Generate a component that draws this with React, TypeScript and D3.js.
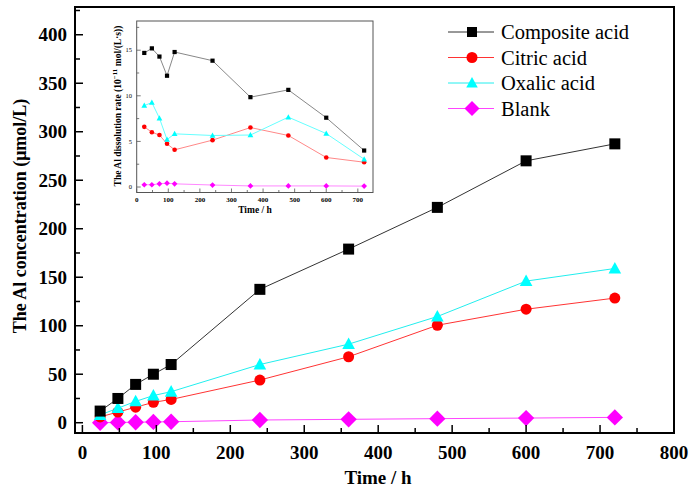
import React from "react";
import * as d3 from "d3";

const times = [24, 48, 72, 96, 120, 240, 360, 480, 600, 720];
const seriesNames = ["Composite acid", "Citric acid", "Oxalic acid", "Blank"];
const compositeConc = [12, 25, 39.5, 50, 60, 137.5, 179, 222, 270, 287.5];
const citricConc = [6, 11, 16, 21, 24, 44, 68, 100.5, 117, 128.5];
const oxalicConc = [8, 15, 22, 28, 32, 60, 81, 109.5, 146, 159];
const blankConc = [0, 0.3, 0.5, 0.8, 1, 2.8, 3.5, 4.2, 4.8, 5.5];

const compositeRate = [14.7, 15.2, 14.3, 12.2, 14.8, 13.85, 9.85, 10.65, 7.6, 4.0];
const citricRate = [6.6, 6.0, 5.7, 4.74, 4.08, 5.14, 6.52, 5.65, 3.24, 2.72];
const oxalicRate = [8.93, 9.26, 7.55, 5.2, 5.83, 5.65, 5.7, 7.66, 5.86, 3.05];
const blankRate = [0.25, 0.25, 0.35, 0.42, 0.35, 0.22, 0.12, 0.12, 0.12, 0.1];

const mainXTicks = [0, 100, 200, 300, 400, 500, 600, 700, 800];
const mainYTicks = [0, 50, 100, 150, 200, 250, 300, 350, 400];
const insetXTicks = [0, 100, 200, 300, 400, 500, 600, 700];
const insetYTicks = [0, 5, 10, 15];

const markerColors = ["#000000", "#ff0000", "#00ffff", "#ff00ff"];
const lineColors = ["#333333", "#ff3333", "#22eeee", "#ff44ff"];
const insetLineColors = ["#888888", "#ff8888", "#66ffff", "#ff88ff"];
const shapes = ["square", "circle", "triangle", "diamond"];

function Marker({ shape, x, y, s, fill }: { shape: string; x: number; y: number; s: number; fill: string }) {
  if (shape === "square") return <rect x={x - s / 2} y={y - s / 2} width={s} height={s} fill={fill} />;
  if (shape === "circle") return <circle cx={x} cy={y} r={s * 0.55} fill={fill} />;
  if (shape === "triangle") {
    const h = s * 1.0;
    const w = s * 1.15;
    return <path d={`M${x},${y - h * 0.6} L${x + w / 2},${y + h * 0.45} L${x - w / 2},${y + h * 0.45} Z`} fill={fill} />;
  }
  const r = s * 0.68;
  return <path d={`M${x},${y - r} L${x + r},${y} L${x},${y + r} L${x - r},${y} Z`} fill={fill} />;
}

export default function App() {
  const W = 694, H = 495;
  const x = d3.scaleLinear().domain([-10, 800]).range([75, 674]);
  const y = d3.scaleLinear().domain([-10.6, 428.6]).range([433, 7]);
  const ix = d3.scaleLinear().domain([0, 748]).range([136.7, 373]);
  const iy = d3.scaleLinear().domain([-0.6, 18.2]).range([192.5, 21]);

  const conc = [compositeConc, citricConc, oxalicConc, blankConc];
  const rate = [compositeRate, citricRate, oxalicRate, blankRate];
  const mainLine = d3.line<[number, number]>().x((d) => x(d[0])).y((d) => y(d[1]));
  const insetLine = d3.line<[number, number]>().x((d) => ix(d[0])).y((d) => iy(d[1]));

  const xMinor = d3.range(0, 801, 50);
  const yMinor = d3.range(0, 426, 25);
  const ixMinor = d3.range(0, 748, 50);
  const iyMinor = d3.range(0, 18.2, 2.5);
  const serif = "Liberation Serif, Times New Roman, Times, DejaVu Serif, serif";

  return (
    <svg width={W} height={H} style={{ position: "absolute", left: 0, top: 0, background: "#fff", fontFamily: serif }}>
      <rect x={0} y={0} width={W} height={H} fill="#fff" />
      {/* main series */}
      {conc.map((vals, i) => (
        <path key={"l" + i} d={mainLine(times.map((t, j) => [t, vals[j]]))!} fill="none" stroke={lineColors[i]} strokeWidth={1} />
      ))}
      {[3, 1, 2, 0].map((i) =>
        times.map((t, j) => (
          <Marker key={`m${i}-${j}`} shape={shapes[i]} x={x(t)} y={y(conc[i][j])} s={i === 3 ? 12 : i === 1 ? 10 : 11} fill={markerColors[i]} />
        ))
      )}
      {/* main frame */}
      <rect x={75} y={7} width={599} height={426} fill="none" stroke="#000" strokeWidth={2} />
      {xMinor.map((t) => (
        <line key={"xt" + t} x1={x(t)} x2={x(t)} y1={433} y2={433 - (t % 100 === 0 ? 8 : 5)} stroke="#000" strokeWidth={1.5} />
      ))}
      {yMinor.map((t) => (
        <line key={"yt" + t} x1={75} x2={75 + (t % 50 === 0 ? 8 : 5)} y1={y(t)} y2={y(t)} stroke="#000" strokeWidth={1.5} />
      ))}
      {mainXTicks.map((t) => (
        <text key={"xl" + t} x={x(t)} y={459} textAnchor="middle" fontSize={19} fontWeight="bold">{t}</text>
      ))}
      {mainYTicks.map((t) => (
        <text key={"yl" + t} x={67} y={y(t) + 6.5} textAnchor="end" fontSize={19} fontWeight="bold">{t}</text>
      ))}
      <text x={378} y={484} textAnchor="middle" fontSize={19} fontWeight="bold">Time / h</text>
      <text transform="translate(26,216) rotate(-90)" textAnchor="middle" fontSize={18} fontWeight="bold">The Al concentration (μmol/L)</text>

      {/* legend */}
      {seriesNames.map((n, i) => {
        const ly = 32 + i * 25.5;
        return (
          <g key={"lg" + i}>
            <line x1={448} x2={494} y1={ly} y2={ly} stroke={lineColors[i]} strokeWidth={1} />
            <Marker shape={shapes[i]} x={472} y={ly} s={i === 3 ? 11 : 10} fill={markerColors[i]} />
            <text x={501} y={ly + 7} fontSize={20.5}>{n}</text>
          </g>
        );
      })}

      {/* inset */}
      {rate.map((vals, i) => (
        <path key={"il" + i} d={insetLine(times.map((t, j) => [t, vals[j]]))!} fill="none" stroke={insetLineColors[i]} strokeWidth={1} />
      ))}
      {rate.map((vals, i) =>
        times.map((t, j) => (
          <Marker key={`im${i}-${j}`} shape={shapes[i]} x={ix(t)} y={iy(vals[j])} s={i === 2 ? 5 : 4.2} fill={markerColors[i]} />
        ))
      )}
      <rect x={136.7} y={21} width={236.3} height={171.5} fill="none" stroke="#555" strokeWidth={1} />
      {ixMinor.map((t) => (
        <line key={"ixt" + t} x1={ix(t)} x2={ix(t)} y1={192.5} y2={192.5 - (t % 100 === 0 ? 4 : 2.5)} stroke="#555" strokeWidth={0.8} />
      ))}
      {iyMinor.map((t) => (
        <line key={"iyt" + t} x1={136.7} x2={136.7 + (t % 5 === 0 ? 4 : 2.5)} y1={iy(t)} y2={iy(t)} stroke="#555" strokeWidth={0.8} />
      ))}
      {insetXTicks.map((t) => (
        <text key={"ixl" + t} x={ix(t)} y={201.5} textAnchor="middle" fontSize={7} fontWeight="bold">{t}</text>
      ))}
      {insetYTicks.map((t) => (
        <text key={"iyl" + t} x={132} y={iy(t) + 2.3} textAnchor="end" fontSize={6.5}>{t}</text>
      ))}
      <text x={255} y={213} textAnchor="middle" fontSize={9.5} fontWeight="bold">Time / h</text>
      <text transform="translate(121,106) rotate(-90)" textAnchor="middle" fontSize={9.5} fontWeight="bold">
        The Al dissolution rate (10<tspan dy={-4} fontSize={7}>−11</tspan><tspan dy={4}> mol/(L·s))</tspan>
      </text>
    </svg>
  );
}
